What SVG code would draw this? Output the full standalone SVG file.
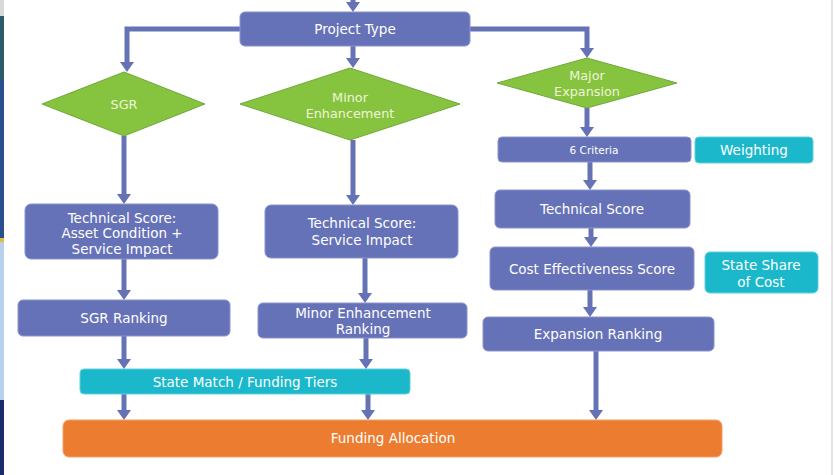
<svg xmlns="http://www.w3.org/2000/svg" width="835" height="475" viewBox="0 0 835 475">
<defs>
<style>
.b{fill:#6672b8;stroke:#8a93cc;stroke-width:1}
.c{fill:#1bb8cc;stroke:#5fd0dd;stroke-width:1}
.o{fill:#ec7d30;stroke:#f2a069;stroke-width:1}
.d{fill:#86c43f;stroke:#6ea83a;stroke-width:1}
.t{font-family:"DejaVu Sans",Verdana,sans-serif;font-size:13.5px;fill:#ffffff;text-anchor:middle}
.dt{font-family:"DejaVu Sans",Verdana,sans-serif;font-size:12.8px;fill:#eef5d8;text-anchor:middle}
.s{font-size:10.5px}
.ln{fill:none;stroke:#6672b6;stroke-width:5;marker-end:url(#ah)}
</style>
<marker id="ah" viewBox="0 0 10 14" markerUnits="userSpaceOnUse" markerWidth="10" markerHeight="14" refX="0" refY="7" orient="auto">
<path d="M0,0 L10,7 L0,14 z" fill="#6672b6"/>
</marker>
</defs>
<rect width="835" height="475" fill="#ffffff"/>
<rect x="0" y="0" width="4" height="16" fill="#d8d8d8"/>
<rect x="0" y="16" width="4" height="64" fill="#2d5a6a"/>
<rect x="0" y="80" width="4" height="160" fill="#2b4e8e"/>
<rect x="0" y="238" width="4" height="4" fill="#d8c040"/>
<rect x="0" y="242" width="4" height="158" fill="#b8d0ec"/>
<rect x="0" y="400" width="4" height="75" fill="#1a2a6a"/>
<rect x="831" y="0" width="2" height="475" fill="#e4e4e4"/>

<g id="connectors">
<path class="ln" d="M353,0 V2"/>
<path class="ln" d="M240,29 H127 V62"/>
<path class="ln" d="M353,46 V58"/>
<path class="ln" d="M470,29 H587 V48"/>
<path class="ln" d="M124,136 V194"/>
<path class="ln" d="M124,259 V290"/>
<path class="ln" d="M124,336 V359"/>
<path class="ln" d="M124,394 V410"/>
<path class="ln" d="M368,394 V410"/>
<path class="ln" d="M353,140 V195"/>
<path class="ln" d="M365,258 V293"/>
<path class="ln" d="M366,338 V359"/>
<path class="ln" d="M587,108 V127"/>
<path class="ln" d="M590,162 V180"/>
<path class="ln" d="M591,228 V237"/>
<path class="ln" d="M590,290 V307"/>
<path class="ln" d="M596,351 V410"/>
</g>

<g id="project-type"><rect class="b" x="240" y="12" width="230" height="34" rx="5"/><text class="t" x="355" y="34">Project Type</text></g>
<g id="sgr"><polygon class="d" points="124,72 205,104 124,136 42,104"/><text class="dt" x="124" y="109">SGR</text></g>
<g id="minor"><polygon class="d" points="350,68 460,104 350,140 240,104"/><text class="dt" x="350" y="102">Minor</text><text class="dt" x="350" y="118">Enhancement</text></g>
<g id="major"><polygon class="d" points="587,58 677,83 587,108 497,83"/><text class="dt" x="587" y="80">Major</text><text class="dt" x="587" y="96">Expansion</text></g>

<g id="criteria"><rect class="b" x="498" y="137" width="193" height="25" rx="4"/><text class="t s" x="594" y="154">6 Criteria</text></g>
<g id="weighting"><rect class="c" x="695" y="137" width="118" height="26" rx="4"/><text class="t" x="754" y="155">Weighting</text></g>
<g id="tech-major"><rect class="b" x="495" y="190" width="195" height="38" rx="5"/><text class="t" x="592" y="214">Technical Score</text></g>
<g id="cost"><rect class="b" x="490" y="247" width="204" height="43" rx="5"/><text class="t" x="592" y="274">Cost Effectiveness Score</text></g>
<g id="state-share"><rect class="c" x="705" y="252" width="113" height="41" rx="5"/><text class="t" x="761" y="270">State Share</text><text class="t" x="761" y="287">of Cost</text></g>
<g id="exp-rank"><rect class="b" x="483" y="317" width="231" height="34" rx="5"/><text class="t" x="598" y="339">Expansion Ranking</text></g>

<g id="tech-sgr"><rect class="b" x="25" y="204" width="193" height="55" rx="6"/><text class="t" x="122" y="223">Technical Score:</text><text class="t" x="122" y="238">Asset Condition +</text><text class="t" x="122" y="254">Service Impact</text></g>
<g id="sgr-rank"><rect class="b" x="18" y="300" width="212" height="36" rx="5"/><text class="t" x="124" y="323">SGR Ranking</text></g>
<g id="tech-minor"><rect class="b" x="265" y="205" width="193" height="53" rx="6"/><text class="t" x="362" y="228">Technical Score:</text><text class="t" x="362" y="245">Service Impact</text></g>
<g id="minor-rank"><rect class="b" x="258" y="303" width="209" height="35" rx="5"/><text class="t" x="363" y="318">Minor Enhancement</text><text class="t" x="363" y="334">Ranking</text></g>
<g id="state-match"><rect class="c" x="80" y="369" width="330" height="25" rx="4"/><text class="t" x="245" y="387">State Match / Funding Tiers</text></g>
<g id="funding"><rect class="o" x="63" y="420" width="659" height="37" rx="6"/><text class="t" x="393" y="443">Funding Allocation</text></g>
</svg>
